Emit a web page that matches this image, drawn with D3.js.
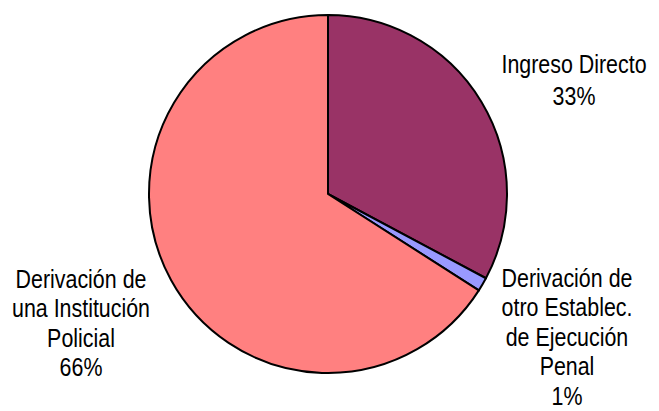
<!DOCTYPE html>
<html>
<head>
<meta charset="utf-8">
<script src="https://cdn.jsdelivr.net/npm/d3@7"></script>
<style>
  body { margin: 0; background: #fff; }
  text { font-family: "Liberation Sans", Arial, sans-serif; fill: #000; }
</style>
</head>
<body>
<script>
// data
const categories = ["Ingreso Directo", "Derivación de otro Establec. de Ejecución Penal", "Derivación de una Institución Policial"]
const values = [32.8, 1.25, 65.95]
const percentLabels = ["33%", "1%", "66%"]
const labelLines = [
    ["Ingreso Directo"],
    ["Derivación de", "otro Establec.", "de Ejecución", "Penal"],
    ["Derivación de", "una Institución", "Policial"]
]
const colors = ["#993366", "#9999FF", "#FF8080"]

// where each label block sits (centre x, first baseline y)
const labelPos = [[574, 73], [567, 287], [81, 288]]
const lineHeights = [32, 29.5, 29.5]

const width = 659, height = 411
const cx = 328, cy = 194, radius = 179

const svg = d3.select("body").append("svg")
    .attr("width", width)
    .attr("height", height)

const pie = d3.pie().sort(null).value(d => d.value)
const arc = d3.arc().innerRadius(0).outerRadius(radius)

const data = categories.map((c, i) => ({ name: c, value: values[i], color: colors[i], pct: percentLabels[i], lines: labelLines[i] }))

const g = svg.append("g").attr("transform", `translate(${cx},${cy})`)

g.selectAll("path")
    .data(pie(data))
    .enter().append("path")
    .attr("d", arc)
    .attr("fill", d => d.data.color)
    .attr("stroke", "#000")
    .attr("stroke-width", 2)
    .attr("stroke-linejoin", "round")

// labels (the original font is a narrow sans, so squeeze horizontally)
data.forEach((d, i) => {
    let lab = svg.append("g")
        .attr("transform", `translate(${labelPos[i][0]},${labelPos[i][1]}) scale(0.84,1)`)
    let t = lab.append("text")
        .attr("text-anchor", "middle")
        .attr("font-size", 25.5)
    d.lines.concat([d.pct]).forEach((line, j) => {
        t.append("tspan")
            .attr("x", 0)
            .attr("y", j * lineHeights[i])
            .text(line)
    })
})
</script>
</body>
</html>
